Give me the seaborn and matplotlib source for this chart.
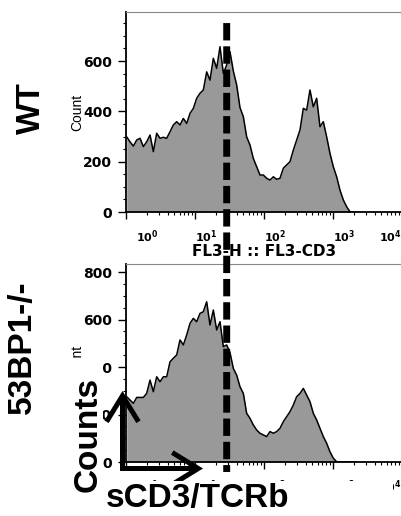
"""
plot.py
Two FlowJo-style CD3 histograms (WT vs 53BP1-/-) with a shared gate line.
"""

import numpy as np
import matplotlib
matplotlib.use("Agg")
import matplotlib.pyplot as plt
from matplotlib.patches import Rectangle, ConnectionPatch, FancyArrowPatch
from matplotlib.ticker import MultipleLocator, LogLocator, NullFormatter
from matplotlib.transforms import ScaledTranslation
import seaborn as sns

# ---- Data ----
# histogram bins are evenly spaced in log10(FL3-H)
BIN_START = 0.01
BIN_WIDTH = 0.0483

wt_counts = [299, 279, 262, 286, 293, 260, 279, 306, 240, 313,
             293, 297, 293, 319, 346, 359, 346, 372, 352, 392,
             412, 452, 472, 485, 557, 524, 611, 571, 657, 551,
             584, 637, 560, 505, 415, 379, 299, 266, 213, 180,
             147, 147, 134, 127, 140, 130, 134, 174, 187, 200,
             246, 286, 326, 412, 405, 485, 418, 452, 339, 359,
             299, 233, 180, 140, 87, 48, 21, 1, 0, 0]

ko_counts = [275, 261, 247, 272, 272, 272, 289, 345, 296, 359,
             338, 359, 359, 422, 437, 451, 514, 493, 535, 584,
             605, 591, 626, 633, 675, 577, 640, 556, 591, 486,
             493, 461, 394, 366, 317, 289, 205, 184, 156, 135,
             121, 114, 107, 128, 121, 128, 142, 170, 191, 212,
             240, 275, 289, 310, 282, 254, 205, 177, 142, 107,
             79, 43, 16, 1, 0, 0, 0, 0, 0, 0]

GATE = 28.8  # dashed gate position on FL3-H

panel_names = ["WT", "53BP1-/-"]
panel_ymax = [795, 834]
panel_yticks = [[0, 200, 400, 600], [0, 200, 400, 600, 800]]
x_ticks = [1, 10, 100, 1000, 10000]
x_ticklabels = [r"$10^{0}$", r"$10^{1}$", r"$10^{2}$", r"$10^{3}$", r"$10^{4}$"]
x_label = "FL3-H :: FL3-CD3"

# ---- Figure geometry (pixels) ----
W, H, DPI = 402, 516, 100
FILL = "#999999"

sns.set_style("white")
plt.rcParams["font.family"] = ["Liberation Sans", "DejaVu Sans"]
plt.rcParams["mathtext.fontset"] = "dejavusans"
plt.rcParams["mathtext.default"] = "bf"
for key in ["text.color", "axes.labelcolor", "xtick.color", "ytick.color"]:
    plt.rcParams[key] = "black"


def fig_xy(x, y):
    """pixel position (from top-left) -> figure fraction"""
    return (x / W, 1 - y / H)


def draw_panel(ax, counts, ymax, yticks):
    counts = np.asarray(counts)
    x = 10 ** (BIN_START + BIN_WIDTH * np.arange(len(counts)))
    ax.set_xscale("log")
    ax.fill_between(x, counts, 0, color=FILL, lw=0)
    sns.lineplot(x=x, y=counts, ax=ax, color="black", lw=1.1)

    ax.set_xlim(1, 10000)
    ax.set_ylim(0, ymax)

    ax.set_yticks(yticks)
    ax.set_yticklabels([str(t) for t in yticks], fontfamily="DejaVu Sans",
                       fontweight="bold")
    ax.yaxis.set_minor_locator(MultipleLocator(50))
    ax.set_xticks(x_ticks)
    ax.set_xticklabels(x_ticklabels)
    ax.xaxis.set_minor_locator(LogLocator(base=10, subs=np.arange(2, 10)))
    ax.xaxis.set_minor_formatter(NullFormatter())

    ax.tick_params(axis="y", which="major", direction="out", length=5.8,
                   width=1, pad=4.3, labelsize=10, left=True)
    ax.tick_params(axis="y", which="minor", direction="out", length=2.2,
                   width=0.8, left=True)
    ax.tick_params(axis="x", which="major", direction="out", length=5,
                   width=1, pad=6.5, labelsize=8, bottom=True)
    ax.tick_params(axis="x", which="minor", direction="out", length=2.2,
                   width=0.8, bottom=True)

    labels = ax.get_xticklabels()
    for lab in labels[:-1]:
        lab.set_horizontalalignment("left")
    labels[-1].set_horizontalalignment("right")
    labels[0].set_transform(labels[0].get_transform()
                            + ScaledTranslation(0.1, 0, ax.figure.dpi_scale_trans))

    for side in ["left", "bottom"]:
        ax.spines[side].set_color("black")
        ax.spines[side].set_linewidth(1.3)
    for side in ["top", "right"]:
        ax.spines[side].set_color("#888888")
        ax.spines[side].set_linewidth(0.8)

    ax.set_xlabel("")
    ax.set_ylabel("")
    ax.text(-0.176, 0.5, "Count", transform=ax.transAxes, rotation=90,
            ha="center", va="center", fontsize=10)
    ax.text(0.5, -0.195, x_label, transform=ax.transAxes, ha="center",
            va="center", fontsize=11, fontweight="bold",
            fontfamily="DejaVu Sans")


fig = plt.figure(figsize=(W / DPI, H / DPI), dpi=DPI)
ax_top = fig.add_axes([126 / W, 1 - 212 / H, 276 / W, 200 / H])
ax_bot = fig.add_axes([126 / W, 1 - 462 / H, 276 / W, 198 / H])

draw_panel(ax_top, wt_counts, panel_ymax[0], panel_yticks[0])
draw_panel(ax_bot, ko_counts, panel_ymax[1], panel_yticks[1])

# ---- Sample names ----
big = dict(fontsize=24, fontweight="bold", transform=fig.transFigure,
           ha="center", va="center", zorder=6, color="black")
fig.text(*fig_xy(31, 108), panel_names[0], rotation=90, **big)
fig.text(*fig_xy(22, 347), panel_names[1], rotation=90, **big)

# ---- White boxes behind the axis-name overlay ----
for (x0, y0, x1, y1) in [(62, 358, 103, 500), (100, 481, 393, 516)]:
    fig.add_artist(Rectangle(fig_xy(x0, y1), (x1 - x0) / W, (y1 - y0) / H,
                             transform=fig.transFigure, facecolor="white",
                             edgecolor="none", zorder=3))

fig.text(*fig_xy(88, 434), "Counts", rotation=90, **big)
fig.text(*fig_xy(198, 499), "sCD3/TCRb", **big)

# ---- Axis arrows ----
arrow_kw = dict(transform=fig.transFigure, arrowstyle="->,head_length=1.87,head_width=1.15",
                mutation_scale=10, lw=3.6, color="black", shrinkA=0, shrinkB=0,
                joinstyle="miter", capstyle="butt", zorder=2)
fig.add_artist(FancyArrowPatch(fig_xy(122.5, 471), fig_xy(122.5, 391), **arrow_kw))
fig.add_artist(FancyArrowPatch(fig_xy(120, 468.5), fig_xy(203, 468.5), **arrow_kw))

# ---- Gate line across both panels ----
gate = ConnectionPatch(xyA=(GATE, 751), coordsA=ax_top.transData,
                       xyB=(GATE, -42), coordsB=ax_bot.transData,
                       color="black", lw=5, linestyle=(0, (2.5, 0.85)),
                       capstyle="butt", zorder=10)
fig.add_artist(gate)

fig.savefig("out.png", dpi=DPI)
